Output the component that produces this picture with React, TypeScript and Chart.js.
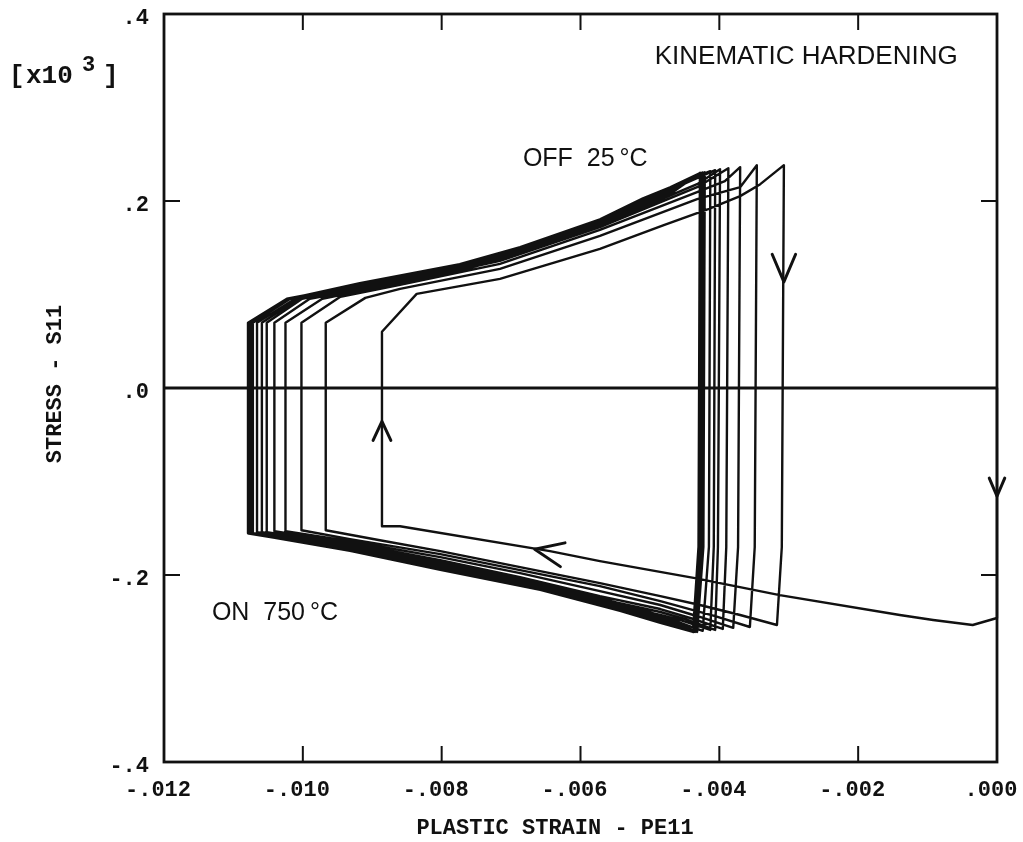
import React, { useEffect, useRef } from 'react';
import { Chart, registerables } from 'chart.js';

Chart.register(...registerables);

type P = [number, number];

// Axis ticks
const xTicks = [-0.012, -0.01, -0.008, -0.006, -0.004, -0.002, 0];
const xTickLabels = ['-.012', '-.010', '-.008', '-.006', '-.004', '-.002', '.000'];
const yTicks = [0.4, 0.2, 0, -0.2, -0.4];
const yTickLabels = ['.4', '.2', '.0', '-.2', '-.4'];

// First heating: compressive yield at zero plastic strain, then flow to the left
const firstLoading: P[] = [
  [0, 0], [0, -0.246], [-0.00035, -0.2535], [-0.00092, -0.2481], [-0.0014, -0.2428],
  [-0.00313, -0.2215], [-0.00435, -0.2033], [-0.00572, -0.1852], [-0.00644, -0.1745],
  [-0.0086, -0.1478], [-0.00886, -0.1478],
];

// Cooling branches (OFF 25 °C): from the left vertical up to the tensile corner
const upperBranches: P[][] = [
  [[-0.00886, 0.0602], [-0.00836, 0.1007], [-0.00716, 0.1167], [-0.00572, 0.1487], [-0.0048, 0.1743], [-0.00416, 0.1913], [-0.0037, 0.2052], [-0.00341, 0.218], [-0.00307, 0.2383]],
  [[-0.00967, 0.0698], [-0.0091, 0.0964], [-0.0086, 0.106], [-0.00716, 0.1274], [-0.00572, 0.1626], [-0.00432, 0.202], [-0.0037, 0.2148], [-0.00346, 0.2383]],
  [[-0.01002, 0.0698], [-0.00946, 0.0975], [-0.0086, 0.1103], [-0.00716, 0.1327], [-0.00572, 0.169], [-0.00432, 0.2095], [-0.00392, 0.2212], [-0.0037, 0.2362]],
  [[-0.01025, 0.0698], [-0.00972, 0.0954], [-0.0086, 0.1124], [-0.00716, 0.1359], [-0.00572, 0.1721], [-0.00432, 0.2148], [-0.00387, 0.2351]],
  [[-0.01041, 0.0698], [-0.0099, 0.0954], [-0.0086, 0.1135], [-0.00716, 0.137], [-0.00572, 0.1743], [-0.00432, 0.218], [-0.00399, 0.234]],
  [[-0.01052, 0.0698], [-0.01001, 0.0954], [-0.00918, 0.1082], [-0.00774, 0.1284], [-0.00687, 0.1466], [-0.00572, 0.1764], [-0.0051, 0.1988], [-0.00442, 0.2212], [-0.00406, 0.233]],
  [[-0.01059, 0.0698], [-0.01006, 0.0954], [-0.00918, 0.1092], [-0.00774, 0.1295], [-0.00687, 0.1477], [-0.00572, 0.1775], [-0.0051, 0.1998], [-0.00442, 0.2234], [-0.00413, 0.2319]],
  [[-0.01066, 0.0698], [-0.01011, 0.0954], [-0.00918, 0.1082], [-0.00774, 0.1284], [-0.00687, 0.1466], [-0.00572, 0.1764], [-0.0051, 0.1988], [-0.00471, 0.2106], [-0.00421, 0.2308]],
  [[-0.01072, 0.0698], [-0.01017, 0.096], [-0.00918, 0.1112], [-0.00774, 0.1314], [-0.00687, 0.1496], [-0.00572, 0.1794], [-0.0051, 0.2018], [-0.00471, 0.2136], [-0.00424, 0.2305]],
  [[-0.01075, 0.0698], [-0.0102, 0.0954], [-0.00918, 0.1062], [-0.00774, 0.1264], [-0.00687, 0.1446], [-0.00572, 0.1744], [-0.0051, 0.1968], [-0.00471, 0.2086], [-0.00425, 0.2303]],
  [[-0.01077, 0.0698], [-0.01021, 0.0954], [-0.00918, 0.1122], [-0.00774, 0.1324], [-0.00687, 0.1506], [-0.00572, 0.1804], [-0.0051, 0.2028], [-0.00471, 0.2146], [-0.00427, 0.23]],
  [[-0.01078, 0.0698], [-0.01022, 0.095], [-0.00918, 0.1052], [-0.00774, 0.1254], [-0.00687, 0.1436], [-0.00572, 0.1734], [-0.0051, 0.1958], [-0.00471, 0.2076], [-0.00428, 0.23]],
  [[-0.01079, 0.0698], [-0.01023, 0.0954], [-0.00918, 0.1102], [-0.00774, 0.1304], [-0.00687, 0.1486], [-0.00572, 0.1784], [-0.0051, 0.2008], [-0.00471, 0.2126], [-0.00428, 0.23]],
];

// Heating branches (ON 750 °C): down the right vertical, then compressive flow to the left
const lowerBranches: P[][] = [
  [[-0.0031, -0.17], [-0.00317, -0.2535], [-0.0037, -0.2428], [-0.00428, -0.2321], [-0.00485, -0.2226], [-0.00572, -0.2087], [-0.00687, -0.1916], [-0.00802, -0.1745], [-0.00889, -0.1628], [-0.00967, -0.1521]],
  [[-0.00349, -0.17], [-0.00356, -0.2556], [-0.00406, -0.2439], [-0.00485, -0.2279], [-0.00572, -0.2119], [-0.00687, -0.1948], [-0.00802, -0.1777], [-0.00932, -0.1617], [-0.01002, -0.1521]],
  [[-0.00373, -0.17], [-0.0038, -0.2566], [-0.00428, -0.2449], [-0.00485, -0.2321], [-0.00572, -0.2172], [-0.00687, -0.198], [-0.00802, -0.1809], [-0.00932, -0.1639], [-0.01025, -0.1532]],
  [[-0.0039, -0.17], [-0.00395, -0.2577], [-0.00442, -0.246], [-0.00485, -0.2364], [-0.00572, -0.2226], [-0.00687, -0.2023], [-0.00802, -0.1841], [-0.00932, -0.166], [-0.01041, -0.1532]],
  [[-0.00402, -0.17], [-0.00406, -0.2588], [-0.00449, -0.2471], [-0.00485, -0.2396], [-0.00572, -0.2257], [-0.00687, -0.2054], [-0.00802, -0.1873], [-0.00932, -0.1681], [-0.01052, -0.1543]],
  [[-0.00408, -0.17], [-0.00413, -0.2588], [-0.00457, -0.2481], [-0.00485, -0.2428], [-0.00572, -0.2279], [-0.00687, -0.2076], [-0.00802, -0.1895], [-0.00932, -0.1692], [-0.01059, -0.1543]],
  [[-0.00415, -0.17], [-0.00424, -0.2598], [-0.00464, -0.2492], [-0.00514, -0.2396], [-0.00572, -0.2289], [-0.00687, -0.2087], [-0.00802, -0.1905], [-0.00932, -0.1702], [-0.01066, -0.1543]],
  [[-0.00423, -0.17], [-0.00432, -0.2609], [-0.00485, -0.2451], [-0.00543, -0.2323], [-0.00658, -0.2099], [-0.00802, -0.1885], [-0.00932, -0.1682], [-0.01072, -0.1553]],
  [[-0.00426, -0.17], [-0.00435, -0.2609], [-0.00485, -0.2491], [-0.00543, -0.2363], [-0.00658, -0.2139], [-0.00802, -0.1925], [-0.00932, -0.1722], [-0.01075, -0.1553]],
  [[-0.00427, -0.17], [-0.00437, -0.2609], [-0.00485, -0.2431], [-0.00543, -0.2303], [-0.00658, -0.2079], [-0.00802, -0.1865], [-0.00932, -0.1662], [-0.01077, -0.1553]],
  [[-0.00429, -0.17], [-0.00438, -0.2609], [-0.00485, -0.2511], [-0.00543, -0.2383], [-0.00658, -0.2159], [-0.00802, -0.1945], [-0.00932, -0.1742], [-0.01078, -0.1553]],
  [[-0.0043, -0.17], [-0.00438, -0.2609], [-0.00485, -0.2471], [-0.00543, -0.2343], [-0.00658, -0.2119], [-0.00802, -0.1905], [-0.00932, -0.1702], [-0.01079, -0.1553]],
  [[-0.0043, -0.17], [-0.00438, -0.2609], [-0.00485, -0.2501], [-0.00543, -0.2373], [-0.00658, -0.2149], [-0.00802, -0.1935], [-0.00932, -0.1732], [-0.0108, -0.1553]],
];

// Direction arrows on the path: tip position and pointing direction
const arrowTips = [
  { x: -0.00307, y: 0.1135, dir: 'down' },
  { x: 0, y: -0.1158, dir: 'down' },
  { x: -0.00886, y: -0.0356, dir: 'up' },
  { x: -0.00666, y: -0.1725, dir: 'left' },
];

// Annotations
const notes = [
  { text: 'KINEMATIC HARDENING', x: -0.00493, y: 0.346, size: 26 },
  { text: 'OFF  25\u2009°C', x: -0.00683, y: 0.2372, size: 25 },
  { text: 'ON  750\u2009°C', x: -0.01131, y: -0.2481, size: 25 },
];

const xTitle = 'PLASTIC STRAIN - PE11';
const yTitle = 'STRESS - S11';

const INK = '#111';
const MONO = 'bold 22px "Liberation Mono", "DejaVu Sans Mono", monospace';
const sans = (size: number) => `${size}px "Liberation Sans", Arial, sans-serif`;

// arrow geometry in pixels: back direction angle (screen), arm length, half-angle
const arrowStyle: Record<string, { back: number; len: number; spread: number }> = {
  down: { back: -90, len: 30, spread: 23 },
  up: { back: 90, len: 21, spread: 25 },
  left: { back: 11, len: 31, spread: 23 },
};
const arrowScale = [1, 0.66, 1, 1];

const toPoints = (list: P[]) => list.map(([x, y]) => ({ x, y }));

const framePlugin = {
  id: 'frameAndText',
  afterDatasetsDraw(chart: any) {
    const { ctx, chartArea: a, scales } = chart;
    const xs = scales.x;
    const ys = scales.y;
    ctx.save();
    ctx.strokeStyle = INK;
    ctx.fillStyle = INK;
    ctx.lineCap = 'butt';

    // frame
    ctx.lineWidth = 2.8;
    ctx.strokeRect(a.left, a.top, a.right - a.left, a.bottom - a.top);

    // inward tick marks on all four sides
    const tl = 16;
    ctx.lineWidth = 2;
    ctx.beginPath();
    xTicks.slice(1, -1).forEach((v) => {
      const px = xs.getPixelForValue(v);
      ctx.moveTo(px, a.bottom);
      ctx.lineTo(px, a.bottom - tl);
      ctx.moveTo(px, a.top);
      ctx.lineTo(px, a.top + tl);
    });
    yTicks.slice(1, -1).forEach((v) => {
      const py = ys.getPixelForValue(v);
      ctx.moveTo(a.left, py);
      ctx.lineTo(a.left + tl, py);
      ctx.moveTo(a.right, py);
      ctx.lineTo(a.right - tl, py);
    });
    ctx.stroke();

    // tick labels
    ctx.font = MONO;
    ctx.textBaseline = 'middle';
    ctx.textAlign = 'right';
    yTicks.forEach((v, i) => {
      ctx.fillText(yTickLabels[i], a.left - 15, ys.getPixelForValue(v) + 4);
    });
    ctx.textAlign = 'center';
    xTicks.forEach((v, i) => {
      ctx.fillText(xTickLabels[i], xs.getPixelForValue(v) - 6, a.bottom + 28);
    });

    // axis titles
    ctx.fillText(xTitle, a.left + 391, a.bottom + 66);
    ctx.save();
    ctx.translate(a.left - 109, a.top + 370);
    ctx.rotate(-Math.PI / 2);
    ctx.fillText(yTitle, 0, 0);
    ctx.restore();

    // scale factor note
    ctx.textAlign = 'left';
    ctx.textBaseline = 'alphabetic';
    ctx.font = 'bold 26px "Liberation Mono", monospace';
    ctx.fillText('[', a.left - 155, a.top + 69);
    ctx.fillText('x10', a.left - 138, a.top + 69);
    ctx.font = 'bold 22px "Liberation Mono", monospace';
    ctx.fillText('3', a.left - 82, a.top + 57);
    ctx.font = 'bold 26px "Liberation Mono", monospace';
    ctx.fillText(']', a.left - 61, a.top + 69);

    // annotations
    notes.forEach((n) => {
      ctx.font = sans(n.size);
      ctx.fillText(n.text, xs.getPixelForValue(n.x), ys.getPixelForValue(n.y));
    });

    // arrowheads
    ctx.lineWidth = 3;
    ctx.lineCap = 'round';
    ctx.lineJoin = 'round';
    arrowTips.forEach((t, i) => {
      const st = arrowStyle[t.dir];
      const px = xs.getPixelForValue(t.x);
      const py = ys.getPixelForValue(t.y);
      const len = st.len * arrowScale[i];
      const b = (st.back * Math.PI) / 180;
      const s = (st.spread * Math.PI) / 180;
      ctx.beginPath();
      ctx.moveTo(px + len * Math.cos(b - s), py + len * Math.sin(b - s));
      ctx.lineTo(px, py);
      ctx.lineTo(px + len * Math.cos(b + s), py + len * Math.sin(b + s));
      ctx.stroke();
    });
    ctx.restore();
  },
};

export default function App() {
  const ref = useRef<HTMLCanvasElement>(null);

  useEffect(() => {
    const path: P[] = [...firstLoading];
    upperBranches.forEach((u, k) => {
      path.push(...u, ...lowerBranches[k]);
    });

    const chart = new Chart(ref.current as HTMLCanvasElement, {
      type: 'line',
      data: {
        datasets: [
          {
            label: 'zero',
            data: toPoints([[xTicks[0], 0], [xTicks[xTicks.length - 1], 0]]),
            borderColor: INK,
            borderWidth: 3,
            pointRadius: 0,
            clip: 4,
          },
          {
            label: 'S11',
            data: toPoints(path),
            borderColor: INK,
            borderWidth: 2.4,
            pointRadius: 0,
            tension: 0,
            borderJoinStyle: 'round',
            clip: 4,
          },
        ],
      },
      options: {
        responsive: false,
        devicePixelRatio: 1,
        animation: false,
        parsing: true,
        layout: { padding: { left: 164, right: 26, top: 14, bottom: 80 } },
        scales: {
          x: { type: 'linear', min: -0.012, max: 0, display: false },
          y: { type: 'linear', min: -0.4, max: 0.4, display: false },
        },
        plugins: { legend: { display: false }, tooltip: { enabled: false } },
      },
      plugins: [framePlugin],
    } as any);

    return () => chart.destroy();
  }, []);

  return (
    <div style={{ position: 'absolute', left: 0, top: 0, width: 1023, height: 842, background: '#fff' }}>
      <canvas ref={ref} width={1023} height={842} style={{ display: 'block' }} />
    </div>
  );
}
